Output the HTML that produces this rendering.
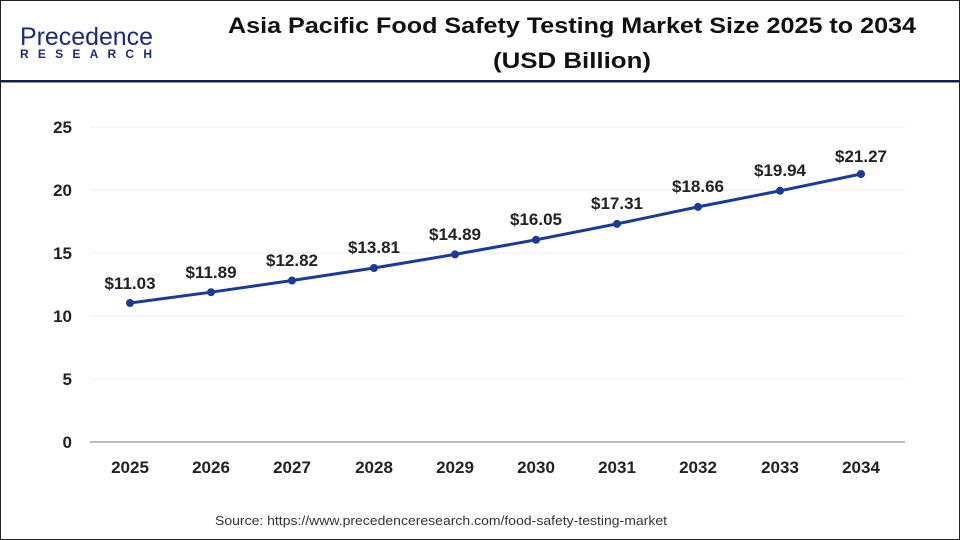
<!DOCTYPE html>
<html><head><meta charset="utf-8"><style>
body{margin:0;background:#fff}
.w{position:relative;width:958px;height:538px;border:1px solid #222;overflow:hidden;font-family:"Liberation Sans",Arial,sans-serif}
</style></head><body><div class="w">
<svg width="958" height="538" viewBox="1 1 958 538" xmlns="http://www.w3.org/2000/svg" font-family="Liberation Sans, Arial, sans-serif">
<text x="20" y="45" font-size="25" fill="#1a2a7a" textLength="133" lengthAdjust="spacingAndGlyphs">Precedence</text>
<text x="20" y="58" font-size="12" fill="#1a2a7a" font-weight="bold" textLength="132" lengthAdjust="spacing">RESEARCH</text>
<text x="572" y="33" font-size="22" font-weight="bold" text-anchor="middle" fill="#111" textLength="688" lengthAdjust="spacingAndGlyphs">Asia Pacific Food Safety Testing Market Size 2025 to 2034</text>
<text x="572" y="68" font-size="22" font-weight="bold" text-anchor="middle" fill="#111" textLength="158" lengthAdjust="spacingAndGlyphs">(USD Billion)</text>
<rect x="1" y="80" width="958" height="2.5" fill="#16204a"/>
<g stroke="#eee" stroke-width="1">
<line x1="90" x2="905" y1="127" y2="127"/><line x1="90" x2="905" y1="190" y2="190"/><line x1="90" x2="905" y1="253" y2="253"/><line x1="90" x2="905" y1="316" y2="316"/><line x1="90" x2="905" y1="379" y2="379"/>
</g>
<line x1="90" x2="905" y1="442" y2="442" stroke="#bbb" stroke-width="2"/>
<g font-size="17" font-weight="bold" fill="#222" text-anchor="end">
<text x="72" y="133">25</text><text x="72" y="196">20</text><text x="72" y="259">15</text><text x="72" y="322">10</text><text x="72" y="385">5</text><text x="72" y="448">0</text>
</g>
<g font-size="17" font-weight="bold" fill="#222" text-anchor="middle">
<text x="130" y="473">2025</text><text x="211" y="473">2026</text><text x="292" y="473">2027</text><text x="374" y="473">2028</text><text x="455" y="473">2029</text><text x="536" y="473">2030</text><text x="617" y="473">2031</text><text x="698" y="473">2032</text><text x="780" y="473">2033</text><text x="861" y="473">2034</text>
</g>
<polyline fill="none" stroke="#1a3a9a" stroke-width="3" points="130,303 211,292.2 292,280.5 374,268 455,254.4 536,239.8 617,223.9 698,206.9 780,190.8 861,174"/>
<g fill="#1a3a9a">
<circle cx="130" cy="303" r="4"/><circle cx="211" cy="292.2" r="4"/><circle cx="292" cy="280.5" r="4"/><circle cx="374" cy="268" r="4"/><circle cx="455" cy="254.4" r="4"/><circle cx="536" cy="239.8" r="4"/><circle cx="617" cy="223.9" r="4"/><circle cx="698" cy="206.9" r="4"/><circle cx="780" cy="190.8" r="4"/><circle cx="861" cy="174" r="4"/>
</g>
<g font-size="17" font-weight="bold" fill="#222" text-anchor="middle">
<text x="130" y="289">$11.03</text><text x="211" y="278">$11.89</text><text x="292" y="266">$12.82</text><text x="374" y="253">$13.81</text><text x="455" y="240">$14.89</text><text x="536" y="225">$16.05</text><text x="617" y="209">$17.31</text><text x="698" y="192">$18.66</text><text x="780" y="176">$19.94</text><text x="861" y="162">$21.27</text>
</g>
<text x="441" y="525" font-size="13" fill="#333" text-anchor="middle" textLength="452" lengthAdjust="spacingAndGlyphs">Source: https://www.precedenceresearch.com/food-safety-testing-market</text>
</svg></div></body></html>
